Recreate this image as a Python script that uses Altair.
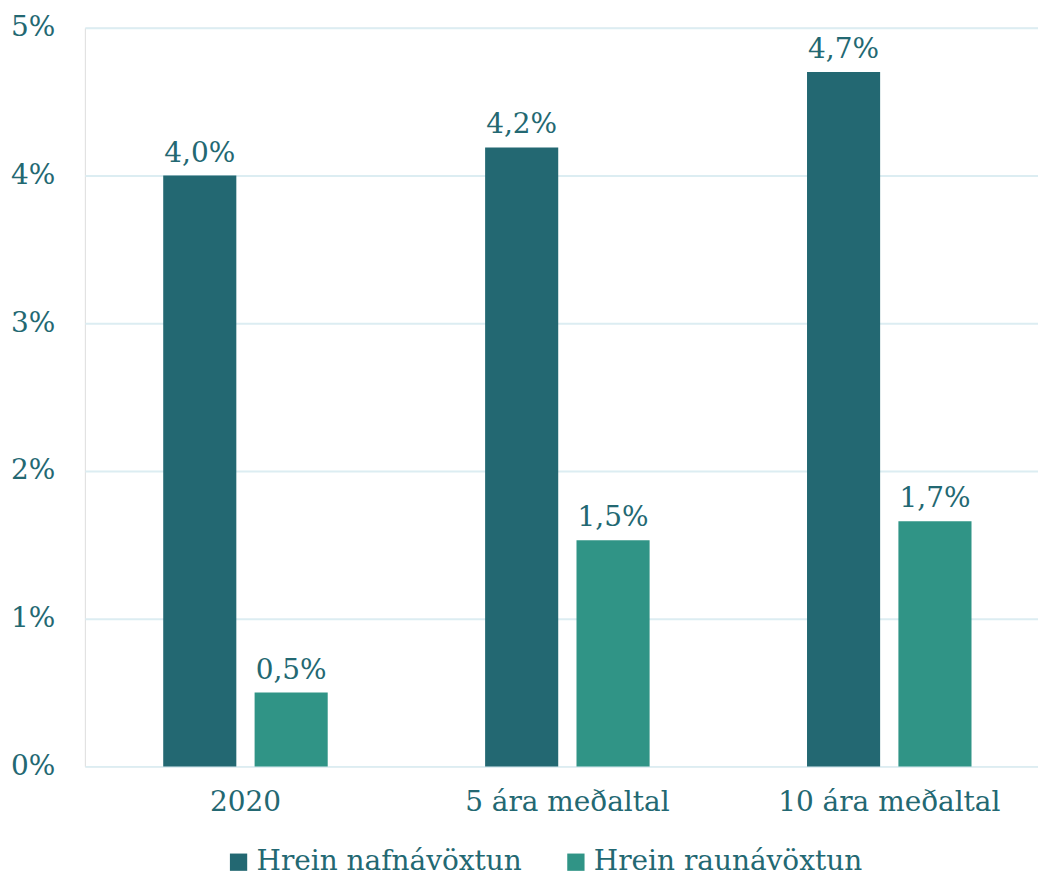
import altair as alt
import pandas as pd

categories = ["2020", "5 ára meðaltal", "10 ára meðaltal"]
series = ["Hrein nafnávöxtun", "Hrein raunávöxtun"]
nominal = [4.0, 4.19, 4.70]
real = [0.5, 1.53, 1.66]
nominal_labels = ["4,0%", "4,2%", "4,7%"]
real_labels = ["0,5%", "1,5%", "1,7%"]
colors = ["#236872", "#309486"]

rows = []
for i, c in enumerate(categories):
    rows.append({"cat": c, "series": series[0], "value": nominal[i], "label": nominal_labels[i]})
    rows.append({"cat": c, "series": series[1], "value": real[i], "label": real_labels[i]})
df = pd.DataFrame(rows)

FONT = "DejaVu Serif"
TXT = "#236872"
FS = 28

x = alt.X("cat:N", sort=categories, title=None,
          scale=alt.Scale(paddingInner=0.489, paddingOuter=0.225, align=0.541),
          axis=alt.Axis(labelAngle=0, ticks=False, domain=False, labelPadding=22, labelLimit=0,
                        labelFontSize=FS, labelFont=FONT, labelColor=TXT))
xo = alt.XOffset("series:N", sort=series, scale=alt.Scale(paddingInner=0.2, paddingOuter=0))
y = alt.Y("value:Q", title=None,
          scale=alt.Scale(domain=[0, 5], nice=False),
          axis=alt.Axis(values=[0, 1, 2, 3, 4, 5], labelExpr="datum.value + '%'",
                        ticks=False, domain=False, labelPadding=30, minExtent=77, maxExtent=77,
                        labelFontSize=FS, labelFont=FONT, labelColor=TXT,
                        gridColor="#dcedf2", gridWidth=2))
color = alt.Color("series:N", sort=series, title=None,
                  scale=alt.Scale(domain=series, range=colors),
                  legend=alt.Legend(orient="none", legendX=140, legendY=822,
                                    direction="horizontal", symbolType="square",
                                    symbolSize=300, symbolStrokeWidth=0, labelFontSize=FS,
                                    labelFont=FONT, labelColor=TXT, columnPadding=40,
                                    labelOffset=4, labelLimit=0))

base = alt.Chart(df).encode(x=x, xOffset=xo, y=y)
bars = base.mark_bar().encode(color=color)
text = base.mark_text(baseline="bottom", dy=-8, fontSize=FS, font=FONT, color=TXT).encode(text="label:N")

chart = alt.layer(bars, text).properties(
    width=955, height=740,
    padding={"left": 0, "top": 5, "right": 0, "bottom": 5},
).configure_view(stroke=None).configure(background="white")

chart.save("out.html", embed_options={"renderer": "svg", "actions": False})
